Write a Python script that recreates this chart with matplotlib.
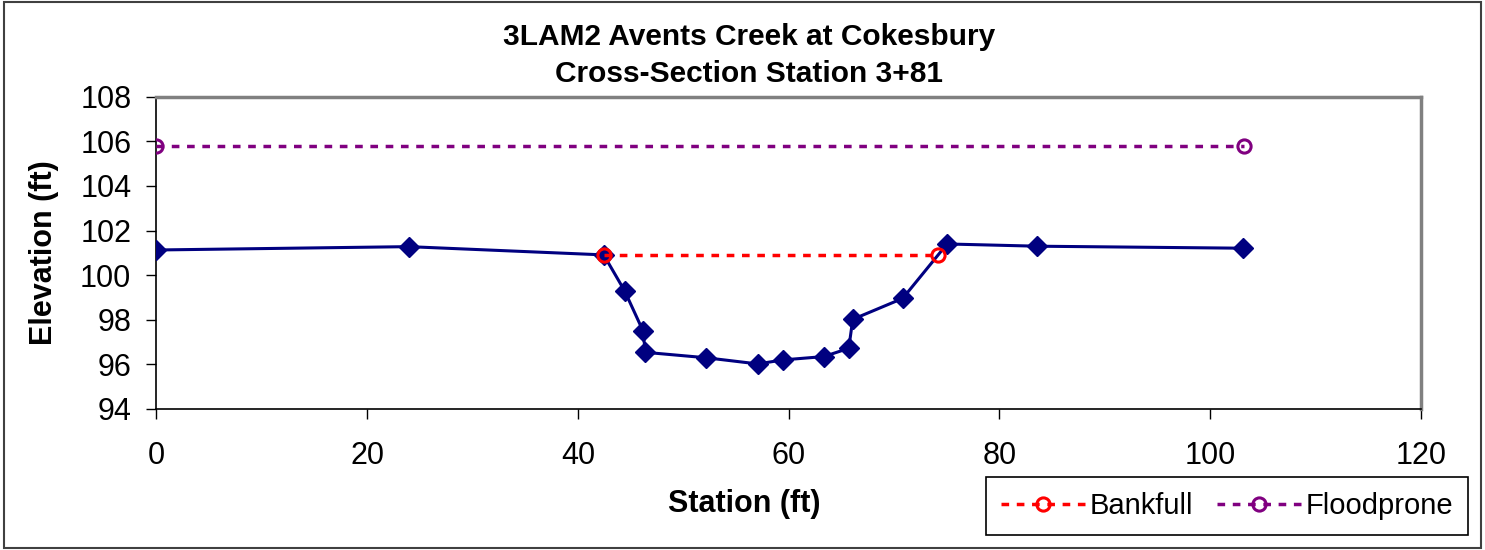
import matplotlib.pyplot as plt
from matplotlib.patches import Rectangle

plt.rcParams['font.family'] = ['Liberation Sans', 'DejaVu Sans']

# Surveyed cross-section (station, elevation)
station = [0.0, 23.95, 42.45, 44.43, 46.17, 46.40, 52.11, 57.07, 59.44, 63.33,
           65.70, 66.08, 70.82, 75.03, 83.59, 103.1]
elevation = [101.13, 101.28, 100.91, 99.30, 97.51, 96.54, 96.30, 96.02, 96.20, 96.35,
             96.72, 98.02, 98.96, 101.40, 101.30, 101.21]

bankfull_x = [42.45, 74.2]
bankfull_y = [100.91, 100.91]

floodprone_x = [0.0, 103.2]
floodprone_y = [105.78, 105.78]

xticks = [0, 20, 40, 60, 80, 100, 120]
yticks = [94, 96, 98, 100, 102, 104, 106, 108]

fig = plt.figure(figsize=(14.85, 5.5), dpi=100)
ax = fig.add_axes([0.1053, 0.2564, 0.8516, 0.5676])

dash = (0, (2.2, 2.2))
ax.plot(station, elevation, color='#000080', lw=2.2, marker='D', markersize=10.5,
        zorder=3)
ax.plot(bankfull_x, bankfull_y, color='#ff0000', lw=2.5, ls=dash,
        marker='o', markersize=9.5, markerfacecolor='none', markeredgewidth=2.2,
        label='Bankfull', zorder=4)
ax.plot(floodprone_x, floodprone_y, color='#800080', lw=2.5, ls=dash,
        marker='o', markersize=9.5, markerfacecolor='none', markeredgewidth=2.2,
        label='Floodprone', zorder=4)

ax.set_xlim(0, 120)
ax.set_ylim(94, 108)
ax.set_xticks(xticks)
ax.set_yticks(yticks)
ax.tick_params(labelsize=22, direction='out', length=7, width=1)
ax.tick_params(axis='x', pad=16)
ax.tick_params(axis='y', pad=11)

for side in ['top', 'right']:
    ax.spines[side].set_color('#808080')
    ax.spines[side].set_linewidth(2.5)
for side in ['left', 'bottom']:
    ax.spines[side].set_color('black')
    ax.spines[side].set_linewidth(1.2)

ax.set_xlabel('Station (ft)', fontsize=22, fontweight='bold')
ax.xaxis.set_label_coords(0.4647, -0.255)
ax.set_ylabel('Elevation (ft)', fontsize=22, fontweight='bold', labelpad=15)
ax.set_title('3LAM2 Avents Creek at Cokesbury\nCross-Section Station 3+81',
             fontsize=21.5, fontweight='bold', pad=11, linespacing=1.4, x=0.469)

leg = fig.legend(loc='center', bbox_to_anchor=(1227 / 1485, 1 - 506 / 550),
                 ncol=2, fontsize=21, frameon=True, fancybox=False,
                 edgecolor='black', framealpha=1, handlelength=2.9,
                 columnspacing=0.8, handletextpad=0.15, borderpad=0.5,
                 borderaxespad=0)
leg.get_frame().set_linewidth(1.2)

fig.patches.append(Rectangle((0.003, 0.003), 0.994, 0.994, transform=fig.transFigure,
                             fill=False, edgecolor='#404040', lw=1.5))

fig.savefig('out.png', dpi=100)
